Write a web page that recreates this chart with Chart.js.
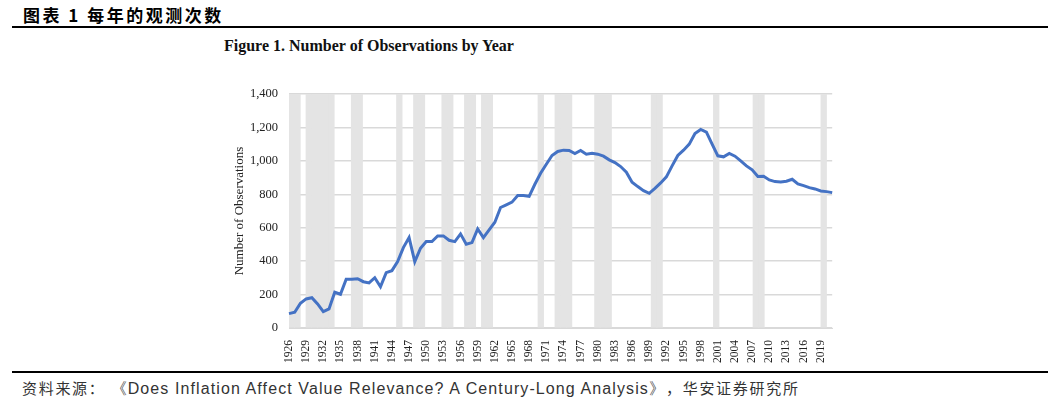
<!DOCTYPE html>
<html>
<head>
<meta charset="utf-8">
<script src="https://cdn.jsdelivr.net/npm/chart.js@4.4.1/dist/chart.umd.min.js"></script>
<style>
  body { margin: 0; width: 1060px; height: 404px; background: #fff; position: relative; overflow: hidden; }
  #header { position: absolute; left: 23px; top: 2px; font: bold 17px "Noto Sans CJK SC", sans-serif; letter-spacing: 2.5px; color: #000; }
  #topline { position: absolute; left: 12px; top: 26px; width: 1036px; height: 1.5px; background: #000; }
  #figtitle { position: absolute; left: 224px; top: 37px; font: bold 16px "Liberation Serif", serif; color: #111; }
  #wrap { position: absolute; left: 220px; top: 30px; width: 630px; height: 338px; }
  #botline { position: absolute; left: 12px; top: 371px; width: 1036px; height: 1.5px; background: #000; }
  #source { position: absolute; left: 22px; top: 377px; color: #333; white-space: nowrap; }
  #source .cn { font-family: "Noto Sans CJK SC", serif; font-size: 15px; letter-spacing: 1.7px; }
  #source .en { font-family: "Liberation Sans", sans-serif; font-size: 16px; letter-spacing: 1.1px; }
</style>
</head>
<body>
<div id="header">图表 1 每年的观测次数</div>
<div id="topline"></div>
<div id="figtitle">Figure 1. Number of Observations by Year</div>
<div id="wrap"><canvas id="grafico"></canvas></div>
<div id="botline"></div>
<div id="source"><span class="cn">资料来源： </span><span class="en">《Does Inflation Affect Value Relevance? A Century-Long Analysis》</span><span class="cn">，华安证券研究所</span></div>

<script>
// anos 1926-2021
const years = [
  1926, 1927, 1928, 1929, 1930, 1931, 1932, 1933, 1934, 1935,
  1936, 1937, 1938, 1939, 1940, 1941, 1942, 1943, 1944, 1945,
  1946, 1947, 1948, 1949, 1950, 1951, 1952, 1953, 1954, 1955,
  1956, 1957, 1958, 1959, 1960, 1961, 1962, 1963, 1964, 1965,
  1966, 1967, 1968, 1969, 1970, 1971, 1972, 1973, 1974, 1975,
  1976, 1977, 1978, 1979, 1980, 1981, 1982, 1983, 1984, 1985,
  1986, 1987, 1988, 1989, 1990, 1991, 1992, 1993, 1994, 1995,
  1996, 1997, 1998, 1999, 2000, 2001, 2002, 2003, 2004, 2005,
  2006, 2007, 2008, 2009, 2010, 2011, 2012, 2013, 2014, 2015,
  2016, 2017, 2018, 2019, 2020, 2021
];

// numero de observacoes por ano
const observations = [
  86, 94, 148, 174, 181, 144, 98, 114, 214, 202,
  292, 292, 295, 277, 270, 301, 247, 331, 343, 397,
  481, 541, 397, 477, 517, 517, 551, 551, 525, 517,
  563, 501, 511, 593, 541, 587, 633, 721, 737, 753,
  793, 793, 788, 860, 926, 980, 1032, 1056, 1064, 1062,
  1044, 1062, 1040, 1046, 1040, 1028, 1006, 990, 966, 932,
  872, 846, 822, 806, 836, 868, 904, 970, 1032, 1064,
  1100, 1164, 1188, 1172, 1100, 1030, 1024, 1044, 1028, 1000,
  970, 946, 906, 908, 886, 876, 874, 878, 890, 862,
  852, 840, 832, 820, 816, 810
];

// anos de recessao (faixas cinzas)
const recessionYears = [
  1926, 1927, 1929, 1930, 1931, 1932, 1933, 1937, 1938, 1945,
  1948, 1949, 1953, 1954, 1957, 1958, 1960, 1961, 1970, 1973,
  1974, 1975, 1980, 1981, 1982, 1990, 1991, 2001, 2008, 2009, 2020
];

const yTicks = [0, 200, 400, 600, 800, 1000, 1200, 1400];

const bandData = years.map(y => recessionYears.includes(y) ? 1400 : null);

const serif = "'Liberation Serif', 'Times New Roman', serif";

new Chart(document.getElementById("grafico"), {
  type: "bar",
  data: {
    labels: years,
    datasets: [
      {
        type: "line",
        label: "Number of Observations",
        data: observations,
        borderColor: "#4472c4",
        borderWidth: 3,
        pointRadius: 0,
        tension: 0,
        xAxisID: "x",
        order: 0,
      },
      {
        type: "bar",
        label: "Recession",
        data: bandData,
        backgroundColor: "#e4e4e4",
        borderWidth: 0,
        grouped: false,
        barPercentage: 1,
        categoryPercentage: 1,
        xAxisID: "x2",
        order: 1,
      },
    ],
  },
  options: {
    responsive: true,
    maintainAspectRatio: false,
    animation: false,
    layout: { padding: { top: 64, right: 11, left: 0, bottom: 0 } },
    plugins: {
      legend: { display: false },
      tooltip: { enabled: false },
    },
    scales: {
      x: {
        type: "category",
        offset: false,
        grid: { display: false },
        border: { display: true, color: "#d9d9d9", width: 1 },
        afterFit: (scale) => { scale.height = 40; },
        ticks: {
          autoSkip: false,
          maxRotation: 90,
          minRotation: 90,
          padding: 4,
          color: "#222",
          font: { family: serif, size: 11.5 },
          callback: function (value, index) {
            return index % 3 === 0 ? this.getLabelForValue(value) : "";
          },
        },
      },
      x2: {
        type: "category",
        labels: years,
        offset: true,
        display: false,
        grid: { display: false },
      },
      y: {
        min: 0,
        max: 1400,
        afterFit: (scale) => { scale.width = 69; },
        afterBuildTicks: (scale) => { scale.ticks = yTicks.map(v => ({ value: v })); },
        grid: { color: "#d9d9d9", lineWidth: 1.5, drawTicks: false },
        border: { display: false },
        ticks: {
          padding: 11,
          color: "#222",
          font: { family: serif, size: 12.5 },
          callback: (v) => v.toLocaleString("en-US"),
        },
        title: {
          display: true,
          text: "Number of Observations",
          color: "#222",
          font: { family: serif, size: 13 },
          padding: { top: 12, bottom: 0 },
        },
      },
    },
  },
});
</script>
</body>
</html>
